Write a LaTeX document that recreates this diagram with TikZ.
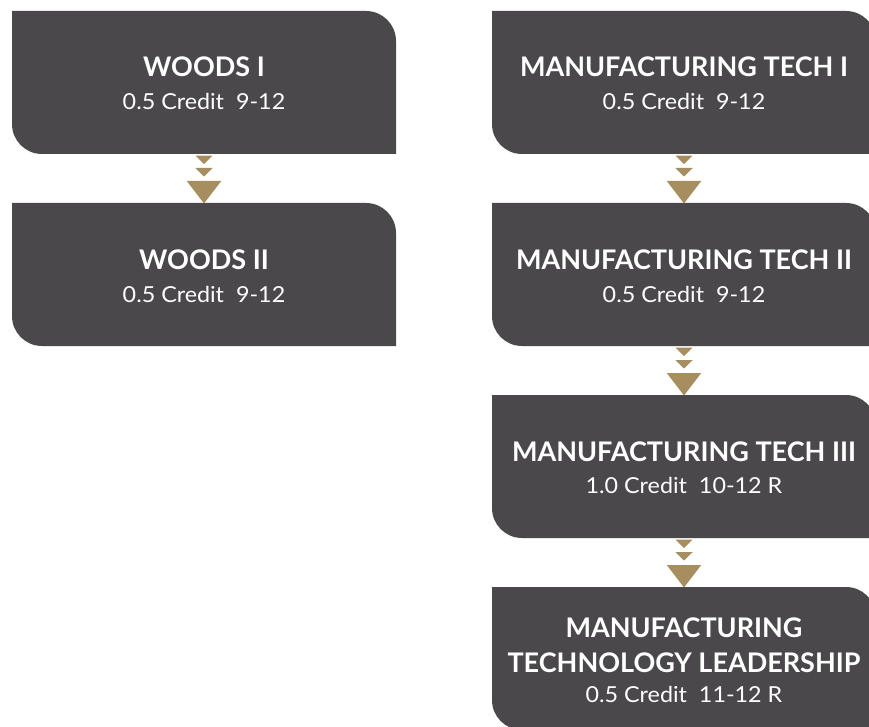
\documentclass[tikz,border=0pt]{standalone}
\usepackage{fontspec}
\setmainfont{Lato}
\newfontfamily\subfont[FakeStretch=1.06]{Lato}
\definecolor{boxgray}{HTML}{4A484B}
\definecolor{gold}{HTML}{A68E60}
\newcommand\cboxfill[1]{\fill[boxgray] (#1.north west) -- ([xshift=-30pt]#1.north east) arc[start angle=90,end angle=0,radius=30pt] -- (#1.south east) -- ([xshift=30pt]#1.south west) arc[start angle=270,end angle=180,radius=30pt] -- cycle;}
\newcommand\chevs[2]{%
  \fill[gold] ([xshift=-8.5pt,yshift=-1.7pt]#1.south) -- ++(17,0) -- ++(-8.5,-8.5) -- cycle;
  \fill[gold] ([xshift=-8.75pt,yshift=-14pt]#1.south) -- ++(17.5,0) -- ++(-8.75,-8.5) -- cycle;
  \fill[gold] ([xshift=-17.25pt,yshift=-27pt]#1.south) -- ++(34.5,0) -- ($(#2.north)+(0,-0.5)$) -- cycle;}
\usetikzlibrary{calc}
\begin{document}
\begin{tikzpicture}[x=1pt,y=1pt,
  cbox/.style={minimum width=384pt,minimum height=143pt,inner sep=0pt,outer sep=0pt},
  ttl/.style={font=\fontsize{27}{30}\selectfont\bfseries,text=white,inner sep=0pt,anchor=base},
  sub/.style={font=\subfont\fontsize{22}{25}\selectfont,text=white,inner sep=0pt,anchor=base}]
\useasboundingbox (0,0) rectangle (869,-727);
\clip (0,0) rectangle (869,-727);

\node[cbox] (w1) at (204,-82.5) {};
\node[cbox] (w2) at (204,-274.5) {};
\node[cbox] (m1) at (684,-82.5) {};
\node[cbox] (m2) at (684,-274.5) {};
\node[cbox] (m3) at (684,-466.5) {};
\node[cbox] (m4) at (684,-658.5) {};
\foreach \b in {w1,w2,m1,m2,m3,m4} {\cboxfill{\b}}

\node[ttl] (w1t) at ([yshift=-66pt]w1.north) {WOODS I};
\node[sub] (w1s) at ([yshift=-99pt]w1.north) {0.5 Credit\ \ 9-12};
\node[ttl] (w2t) at ([yshift=-66pt]w2.north) {WOODS II};
\node[sub] (w2s) at ([yshift=-99pt]w2.north) {0.5 Credit\ \ 9-12};
\node[ttl] (m1t) at ([yshift=-66pt]m1.north) {MANUFACTURING TECH I};
\node[sub] (m1s) at ([yshift=-99pt]m1.north) {0.5 Credit\ \ 9-12};
\node[ttl] (m2t) at ([yshift=-66pt]m2.north) {MANUFACTURING TECH II};
\node[sub] (m2s) at ([yshift=-99pt]m2.north) {0.5 Credit\ \ 9-12};
\node[ttl] (m3t) at ([yshift=-66pt]m3.north) {MANUFACTURING TECH III};
\node[sub] (m3s) at ([yshift=-98pt]m3.north) {1.0 Credit\ \ 10-12 R};
\node[ttl] (m4t) at ([yshift=-50pt]m4.north) {MANUFACTURING};
\node[ttl] (m4u) at ([yshift=-85pt]m4.north) {TECHNOLOGY LEADERSHIP};
\node[sub] (m4s) at ([yshift=-115pt]m4.north) {0.5 Credit\ \ 11-12 R};

\chevs{w1}{w2}
\chevs{m1}{m2}
\chevs{m2}{m3}
\chevs{m3}{m4}
\end{tikzpicture}
\end{document}
